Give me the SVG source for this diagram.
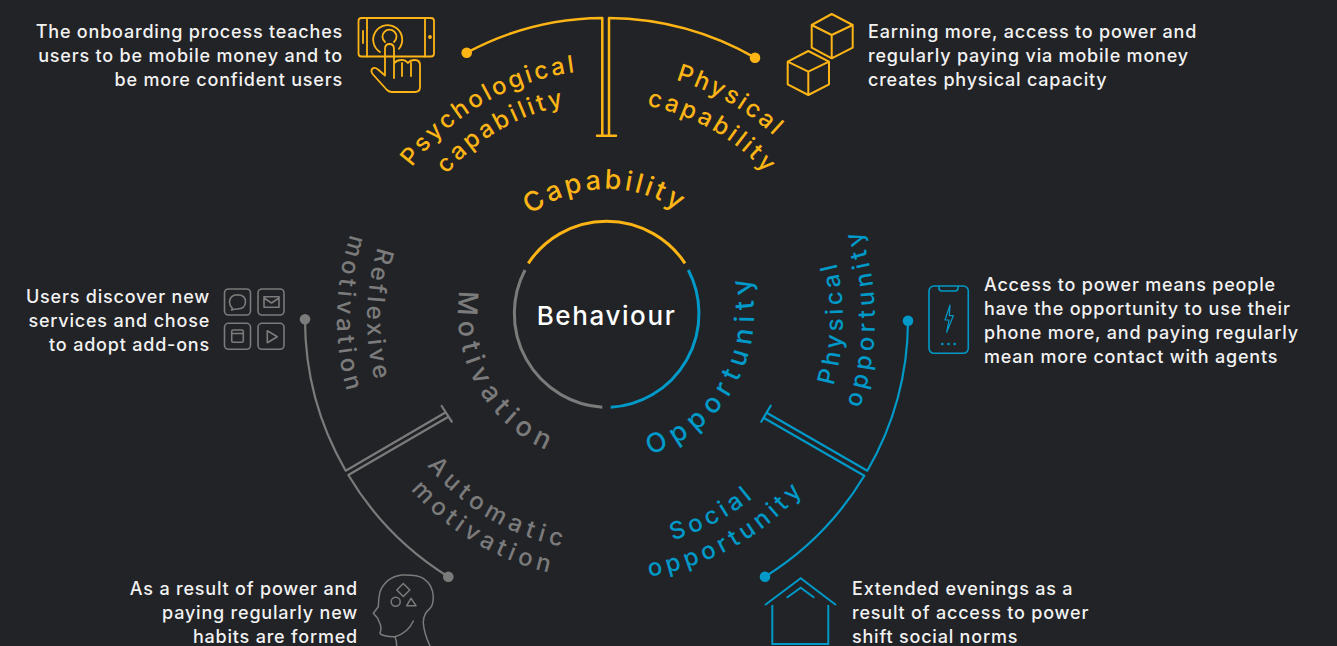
<svg xmlns="http://www.w3.org/2000/svg" width="1337" height="646" viewBox="0 0 1337 646">
<style>
text{font-family:Inter,"Liberation Sans",sans-serif}
.b{font-size:18px;font-weight:500;fill:#f2f2f2;letter-spacing:.8px}
.r{text-anchor:end}
.h{font-size:24px;font-weight:500;text-anchor:middle}
.m{font-size:27px;font-weight:500;text-anchor:middle}
.y{fill:#fdb515}.g{fill:#7b7b7b}.c{fill:#0099c8}
.ly,.lg,.lc{fill:none;stroke-linejoin:round;stroke-linecap:round}
.ly{stroke:#fdb515;stroke-width:2.5}
.lg{stroke:#7b7b7b;stroke-width:2.2}
.lc{stroke:#0099c8;stroke-width:2.2}
</style>
<defs>
<path id="pCap" d="M497.7 253.4A125 125 0 0 1 714.2 249.6"/>
<path id="pPsy1" d="M371.3 250.9A244 244 0 0 1 670.1 78.3"/>
<path id="pPsy2" d="M401.3 258.9A213 213 0 0 1 662.1 108.3"/>
<path id="pPhy1" d="M543.9 78.3A244 244 0 0 1 842.7 250.9"/>
<path id="pPhy2" d="M552.1 109.2A212 212 0 0 1 811.8 259.1"/>
<path id="pMot" d="M468.7 258.7A149 149 0 0 0 576.5 459.9"/>
<path id="pOpp" d="M634 458.5A147 147 0 0 0 744.6 262.3"/>
<path id="pRef1" d="M425.6 161.8A240 240 0 0 0 420.8 470.4"/>
<path id="pRef2" d="M402.9 142.1A270 270 0 0 0 397.5 489.4"/>
<path id="pAut1" d="M395.4 414.1A232 232 0 0 0 624 550.4"/>
<path id="pAut2" d="M369.9 425.6A260 260 0 0 0 626 578.3"/>
<path id="pPo1" d="M785.4 473.6A236 236 0 0 0 790.1 170.1"/>
<path id="pPo2" d="M812.3 491.3A268 268 0 0 0 812.3 146.7"/>
<path id="pSo1" d="M580.4 548.4A231 231 0 0 0 813.5 422.5"/>
<path id="pSo2" d="M579.7 578.6A261 261 0 0 0 841.6 433.4"/>
</defs>
<rect width="1337" height="646" fill="#222327"/>
<g id="connectors">
<path class="ly" d="M466.7 52.7A293 293 0 0 1 602.3 18V135.7M597 135.7H616M609 135.7V18A301 301 0 0 1 755 57.7"/>
<path class="lg" d="M305 319.3A302 302 0 0 0 345.7 470.7L445 412.7M441.7 406L451.7 421.7M448 417L348.3 475A302 302 0 0 0 448.3 576.7"/>
<path class="lc" d="M908 320.7A302 302 0 0 1 867.3 470.7L766.7 412.7M770.7 405.7L761.3 421.7M764 418L864.3 475.7A302 302 0 0 1 765 576.7"/>
<g stroke="none"><circle class="y" cx="466.7" cy="52.7" r="5.3"/><circle class="y" cx="755" cy="57.7" r="5.3"/><circle class="g" cx="305" cy="319.3" r="5.3"/><circle class="g" cx="448.3" cy="576.7" r="5.3"/><circle class="c" cx="908" cy="320.7" r="5.3"/><circle class="c" cx="765" cy="576.7" r="5.3"/></g>
</g>
<g id="behaviour">
<path fill="none" stroke="#fdb515" stroke-width="3" d="M528.3 263.3A94 94 0 0 1 685 263.3"/>
<path fill="none" stroke="#7b7b7b" stroke-width="3" d="M525 270A94 94 0 0 0 602.3 407.3"/>
<path fill="none" stroke="#0099c8" stroke-width="3" d="M688.3 270A94 94 0 0 1 610.7 407.3"/>
<text x="606.5" y="325" font-size="26" font-weight="500" fill="#fff" text-anchor="middle" letter-spacing="1.6">Behaviour</text>
</g>
<g id="capability"><text class="m y" letter-spacing="3"><textPath href="#pCap" startOffset="50%">Capability</textPath></text></g>
<g id="opportunity"><text class="m c" letter-spacing="6.9"><textPath href="#pOpp" startOffset="51.5%">Opportunity</textPath></text></g>
<g id="motivation"><text class="m g" letter-spacing="6.5"><textPath href="#pMot" startOffset="51.5%">Motivation</textPath></text></g>
<g id="psychological-capability">
<text class="h y" letter-spacing="2.8"><textPath href="#pPsy1" startOffset="50%">Psychological</textPath></text>
<text class="h y" letter-spacing="2.9"><textPath href="#pPsy2" startOffset="50%">capability</textPath></text>
<text class="b r" x="343" y="38">The onboarding process teaches</text>
<text class="b r" x="343" y="62">users to be mobile money and to</text>
<text class="b r" x="343" y="86">be more confident users</text>
<g fill="none" stroke="#fdb515" stroke-linecap="round" stroke-linejoin="round" stroke-width="1.8">
<rect x="358.5" y="18" width="75.5" height="38.5" rx="3"/><path d="M367 18V56.5M425 18V56.5M363 31V43"/>
<circle cx="430" cy="37" r="1" fill="#fdb515"/>
<path d="M380 52A14.500 14.500 0 1 1 399 48.800M385 42A7 7 0 1 1 394 42"/>
<path d="M385 49V75.500L378 69.500Q374.500 66.500 372 69Q370.500 71.500 373 74.500L387 90Q389 92 392 92H415Q420 92 420 87V65.500Q420 60 415 60Q410 60 408 63Q405 59.500 401 60Q397 60 394.500 63M385 49Q385 44 389.500 44Q394 44 394 49V78M402 63V76M411 63V76"/>
</g>
</g>
<g id="physical-capability">
<text class="h y" letter-spacing="2.5"><textPath href="#pPhy1" startOffset="50%">Physical</textPath></text>
<text class="h y" letter-spacing="3"><textPath href="#pPhy2" startOffset="50%">capability</textPath></text>
<text class="b" x="868" y="38">Earning more, access to power and</text>
<text class="b" x="868" y="62">regularly paying via mobile money</text>
<text class="b" x="868" y="86">creates physical capacity</text>
<g fill="none" stroke="#fdb515" stroke-linejoin="round" stroke-width="2">
<path d="M831.700 14L852.700 25V47.700L831.700 58.300L811.700 47.700V25ZM811.700 25L831.700 35L852.700 25M831.700 35V58.300"/>
<path d="M808.300 51L829 61.700V84.300L808.300 95L787.700 84.300V61.700ZM787.700 61.700L808.300 71.700L829 61.700M808.300 71.700V95"/>
</g>
</g>
<g id="reflexive-motivation">
<text class="h g" letter-spacing="3.7"><textPath href="#pRef1" startOffset="50%">Reflexive</textPath></text>
<text class="h g" letter-spacing="4.3"><textPath href="#pRef2" startOffset="50%">motivation</textPath></text>
<text class="b r" x="210" y="303">Users discover new</text>
<text class="b r" x="210" y="327">services and chose</text>
<text class="b r" x="210" y="351">to adopt add-ons</text>
<g fill="none" stroke="#7b7b7b" stroke-linejoin="round" stroke-width="1.600">
<rect x="224.500" y="289" width="26" height="26" rx="4"/><rect x="258" y="289" width="26" height="26" rx="4"/><rect x="224.500" y="323.300" width="26" height="26" rx="4"/><rect x="258" y="323.300" width="26" height="26" rx="4"/>
<path d="M232.500 308.500Q229.500 305.500 229.500 302Q230 295 237.500 294.800Q245.500 295 245.500 302Q245 309 237.500 309Q235 309 231.500 310Z"/>
<path d="M264 296.700H279V307.300H264ZM264 298L271.500 303L279 298"/>
<rect x="231.700" y="330" width="11.600" height="12.300" rx="1.500"/><path d="M231.700 333.500H243.300"/>
<path d="M267.300 330.700L277.300 336.700L267.300 342.700Z"/>
</g>
</g>
<g id="automatic-motivation">
<text class="h g" letter-spacing="5.4"><textPath href="#pAut1" startOffset="50.5%">Automatic</textPath></text>
<text class="h g" letter-spacing="4.8"><textPath href="#pAut2" startOffset="50.5%">motivation</textPath></text>
<text class="b r" x="358" y="595">As a result of power and</text>
<text class="b r" x="358" y="619">paying regularly new</text>
<text class="b r" x="358" y="643">habits are formed</text>
<g fill="none" stroke="#7b7b7b" stroke-linecap="round" stroke-linejoin="round" stroke-width="1.500">
<path d="M396.700 646Q396.500 640 395 636.700Q390 637 385 635.700Q380.500 635 380 633.300L381 629L380.500 625L377.500 618L373.300 613.300L378.300 606.700Q378.500 598 380 591.700Q386 577 401.700 575Q417 574.500 423.300 578.300Q433 585 433.300 597Q433 606 430 608.300Q423 614 423.300 623Q424 633 430 646"/>
<path d="M413.300 621Q408 633 395 636.700"/>
<path d="M403.300 583.500L409.800 590L403.300 596.500L396.800 590Z"/><circle cx="395.700" cy="601.700" r="4.500"/><path d="M411 598.300L416 605.700H406.700Z"/>
</g>
</g>
<g id="physical-opportunity">
<text class="h c" letter-spacing="4"><textPath href="#pPo1" startOffset="50%">Physical</textPath></text>
<text class="h c" letter-spacing="4.7"><textPath href="#pPo2" startOffset="50.5%">opportunity</textPath></text>
<text class="b" x="984" y="291">Access to power means people</text>
<text class="b" x="984" y="315">have the opportunity to use their</text>
<text class="b" x="984" y="339">phone more, and paying regularly</text>
<text class="b" x="984" y="363">mean more contact with agents</text>
<g fill="none" stroke="#0099c8" stroke-linejoin="round" stroke-width="1.600">
<rect x="929" y="286" width="39.300" height="67.300" rx="5"/>
<path d="M939 286V288Q939 291 942 291H955Q958 291 958 288V286"/>
<path stroke-width="1.200" d="M950 305L945 320H949L946.700 332.300L953.300 315.700H949.300Z"/>
<g fill="#0099c8" stroke="none"><circle cx="942.300" cy="344" r="1.300"/><circle cx="948.500" cy="344" r="1.300"/><circle cx="954.700" cy="344" r="1.300"/></g>
</g>
</g>
<g id="social-opportunity">
<text class="h c" letter-spacing="4.3"><textPath href="#pSo1" startOffset="50%">Social</textPath></text>
<text class="h c" letter-spacing="4.4"><textPath href="#pSo2" startOffset="50.5%">opportunity</textPath></text>
<text class="b" x="852" y="595">Extended evenings as a</text>
<text class="b" x="852" y="619">result of access to power</text>
<text class="b" x="852" y="643">shift social norms</text>
<g fill="none" stroke="#0099c8" stroke-width="2">
<path d="M765 605L800.700 578.300L836 605M786.700 597.700L800.700 587.700L814.300 597.700M772.300 605V644H828.300V605"/>
</g>
</g>
</svg>
